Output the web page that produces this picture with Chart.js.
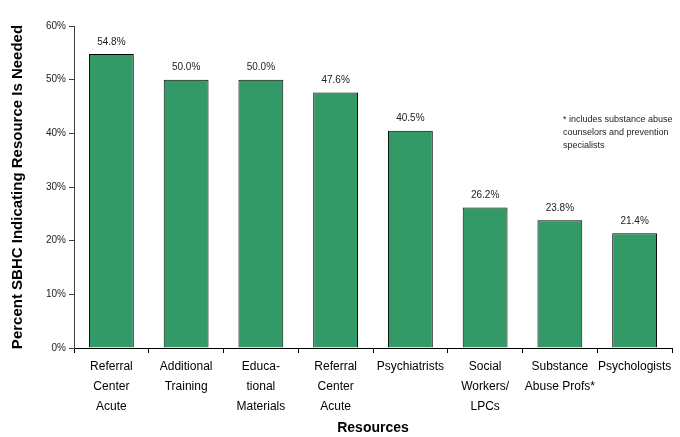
<!DOCTYPE html>
<html>
<head>
<meta charset="utf-8">
<script src="https://cdn.jsdelivr.net/npm/chart.js@4"></script>
<style>
  html, body { margin: 0; padding: 0; background: #fff; }
  #wrap { width: 680px; height: 437px; position: relative; }
</style>
</head>
<body>
<div id="wrap"><canvas id="resourceChart"></canvas></div>
<script>
// Resources and share of SBHCs saying each one is needed
const resources = [
    ['Referral', 'Center', 'Acute'],
    ['Additional', 'Training'],
    ['Educa-', 'tional', 'Materials'],
    ['Referral', 'Center', 'Acute'],
    'Psychiatrists',
    ['Social', 'Workers/', 'LPCs'],
    ['Substance', 'Abuse Profs*'],
    'Psychologists'
];
const percentNeeded = [54.8, 50.0, 50.0, 47.6, 40.5, 26.2, 23.8, 21.4];
const yTicks = [0, 10, 20, 30, 40, 50, 60];
const footnote = ['* includes substance abuse', 'counselors and prevention', 'specialists'];

const FONT = "'Liberation Sans', Arial, Helvetica, sans-serif";

// Value labels above each bar, plus the footnote at the right
const barLabels = {
    id: 'barLabels',
    afterDatasetsDraw(chart) {
        const ctx = chart.ctx;
        const meta = chart.getDatasetMeta(0);
        ctx.save();
        ctx.font = '10px ' + FONT;
        ctx.fillStyle = '#222';
        ctx.textAlign = 'center';
        ctx.textBaseline = 'bottom';
        meta.data.forEach((bar, i) => {
            ctx.fillText(percentNeeded[i].toFixed(1) + '%', bar.x, bar.y - 7);
        });

        ctx.font = '9px ' + FONT;
        ctx.textAlign = 'left';
        ctx.textBaseline = 'middle';
        footnote.forEach((line, i) => {
            ctx.fillText(line, 563, 120 + i * 13);
        });
        ctx.restore();
    }
};

new Chart(document.getElementById('resourceChart'), {
    type: 'bar',
    data: {
        labels: resources,
        datasets: [{
            data: percentNeeded,
            backgroundColor: '#339966',
            borderColor: '#000',
            borderWidth: 1,
            borderSkipped: 'bottom',
            barPercentage: 0.6,
            categoryPercentage: 1.0
        }]
    },
    options: {
        responsive: true,
        maintainAspectRatio: false,
        animation: false,
        layout: { padding: { top: 26, right: 8, bottom: 0, left: 0 } },
        plugins: {
            legend: { display: false },
            tooltip: { enabled: false }
        },
        scales: {
            x: {
                afterFit: s => { s.height = 89; },
                grid: {
                    offset: true,
                    drawOnChartArea: false,
                    drawTicks: true,
                    tickLength: 5,
                    color: '#000'
                },
                border: { color: '#000', width: 1 },
                ticks: {
                    color: '#000',
                    padding: 4,
                    maxRotation: 0,
                    autoSkip: false,
                    font: { family: FONT, size: 12, lineHeight: '20px' }
                },
                title: {
                    display: true,
                    text: 'Resources',
                    color: '#000',
                    padding: { top: 0, bottom: 0 },
                    font: { family: FONT, size: 14, weight: 'bold' }
                }
            },
            y: {
                min: 0,
                max: 60,
                afterFit: s => { s.width = 74; },
                afterBuildTicks: s => { s.ticks = yTicks.map(v => ({ value: v })); },
                grid: {
                    drawOnChartArea: false,
                    drawTicks: true,
                    tickLength: 5,
                    color: '#404040'
                },
                border: { color: '#404040', width: 1 },
                ticks: {
                    color: '#222',
                    padding: 3,
                    font: { family: FONT, size: 10 },
                    callback: v => v + '%'
                },
                title: {
                    display: true,
                    text: 'Percent SBHC Indicating Resource Is Needed',
                    color: '#000',
                    padding: { top: 9, bottom: 0 },
                    font: { family: FONT, size: 15, weight: 'bold' }
                }
            }
        }
    },
    plugins: [barLabels]
});
</script>
</body>
</html>
